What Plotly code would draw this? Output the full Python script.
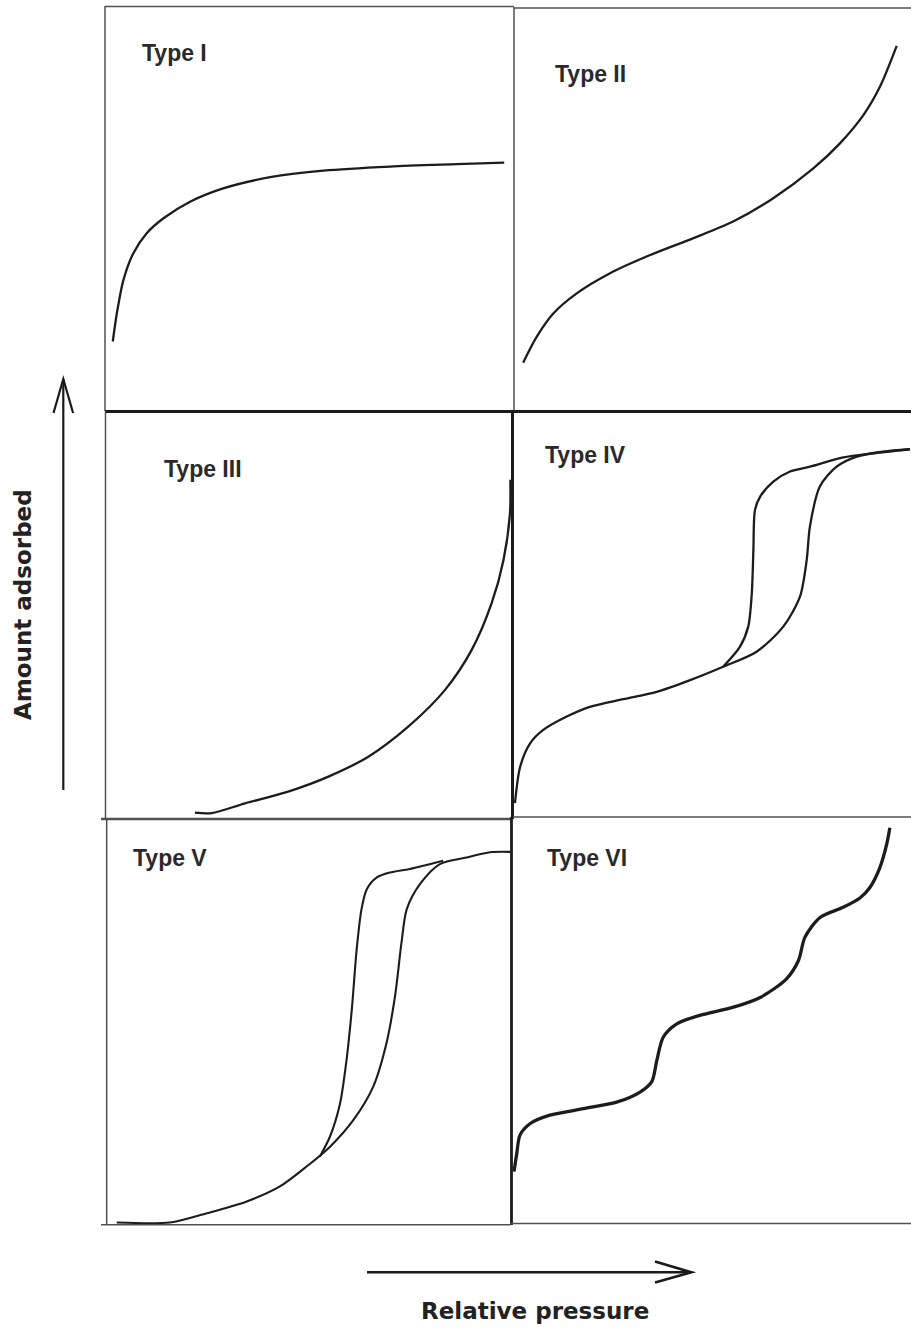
import plotly.graph_objects as go

# ---------------- data (relative pressure 0-1, amount adsorbed 0-100) ----------------
type1_p = [0.019, 0.029, 0.045, 0.069, 0.102, 0.143, 0.208, 0.289, 0.411, 0.534, 0.697, 0.860, 0.976]
type1_q = [17.2, 24.2, 32.4, 39.0, 44.0, 47.7, 51.8, 55.1, 58.0, 59.5, 60.5, 61.1, 61.5]

type2_p = [0.023, 0.057, 0.099, 0.158, 0.242, 0.343, 0.452, 0.552, 0.653, 0.754, 0.821, 0.880, 0.922, 0.964]
type2_q = [12.0, 18.4, 24.2, 29.2, 34.2, 38.7, 42.9, 47.0, 52.8, 60.2, 66.4, 73.4, 80.5, 90.6]

type3_p = [0.221, 0.262, 0.344, 0.450, 0.549, 0.647, 0.745, 0.835, 0.901, 0.950, 0.979, 0.995, 0.996]
type3_q = [1.3, 1.2, 3.6, 6.5, 10.2, 15.1, 22.5, 31.5, 41.4, 52.9, 63.5, 75.0, 83.3]

type4_ads_p = [0.005, 0.018, 0.043, 0.076, 0.135, 0.193, 0.277, 0.361, 0.445, 0.528, 0.612, 0.679,
               0.721, 0.738, 0.746, 0.771, 0.813, 0.864, 0.930, 0.997]
type4_ads_q = [3.4, 12.4, 18.2, 21.5, 24.8, 27.2, 29.1, 30.9, 33.8, 37.1, 40.8, 47.0,
               54.4, 63.5, 71.7, 81.6, 86.5, 89.0, 90.2, 90.8]
type4_des_p = [0.997, 0.905, 0.830, 0.746, 0.696, 0.654, 0.621, 0.608, 0.604, 0.600, 0.591, 0.570, 0.528]
type4_des_q = [90.8, 89.8, 88.8, 86.5, 85.3, 82.8, 79.1, 75.8, 65.9, 55.2, 47.0, 42.0, 37.1]

type5_ads_p = [0.024, 0.156, 0.247, 0.346, 0.428, 0.494, 0.552, 0.610, 0.659, 0.692, 0.713, 0.729,
               0.742, 0.775, 0.824, 0.890, 0.948, 0.998]
type5_ads_q = [0.6, 0.6, 2.9, 5.8, 9.5, 14.4, 19.3, 25.9, 34.1, 44.9, 56.4, 69.6,
               77.8, 84.0, 88.9, 90.5, 91.8, 91.9]
type5_des_p = [0.832, 0.750, 0.700, 0.668, 0.643, 0.630, 0.618, 0.606, 0.593, 0.577, 0.552, 0.527]
type5_des_q = [89.7, 87.7, 86.8, 85.6, 82.7, 77.8, 67.9, 53.1, 40.7, 30.0, 21.8, 16.9]

type6_p = [0.005, 0.012, 0.020, 0.045, 0.095, 0.179, 0.262, 0.321, 0.350, 0.363, 0.379, 0.413,
           0.471, 0.555, 0.622, 0.688, 0.718, 0.734, 0.772, 0.830, 0.872, 0.897, 0.922, 0.939, 0.947]
type6_q = [12.9, 17.4, 21.9, 24.7, 26.8, 28.4, 30.0, 32.5, 35.0, 40.3, 46.0, 49.3,
           51.4, 53.4, 55.8, 60.4, 64.9, 70.6, 75.5, 78.0, 80.3, 82.9, 87.8, 93.5, 97.6]

panel_labels = ["Type I", "Type II", "Type III", "Type IV", "Type V", "Type VI"]
x_label = "Relative pressure"
y_label = "Amount adsorbed"

# ---------------- layout helpers ----------------
W, H = 911, 1327


def fx(x):
    return x / W


def fy(y):
    return 1 - y / H


# panel boxes in pixels: left, right, top, bottom
boxes = [
    (105, 514, 7, 411),
    (514, 911, 8, 411),
    (105, 512, 412, 818),
    (513, 911, 412, 817),
    (107, 511, 819, 1225),
    (512, 911, 818, 1224),
]
label_pos = [(140, 53), (553, 74), (162, 469), (543, 455), (131, 858), (545, 858)]

series = [
    [(type1_p, type1_q)],
    [(type2_p, type2_q)],
    [(type3_p, type3_q)],
    [(type4_ads_p, type4_ads_q), (type4_des_p, type4_des_q)],
    [(type5_ads_p, type5_ads_q), (type5_des_p, type5_des_q)],
    [(type6_p, type6_q)],
]
widths = [2.3, 2.3, 2.3, 2.3, 2.1, 3.3]

fig = go.Figure()
layout = dict(
    width=W, height=H, margin=dict(l=0, r=0, t=0, b=0),
    paper_bgcolor="white", plot_bgcolor="rgba(0,0,0,0)", showlegend=False,
)
for i, (l, r, t, b) in enumerate(boxes):
    k = "" if i == 0 else str(i + 1)
    layout["xaxis" + k] = dict(domain=[fx(l), fx(r)], range=[0, 1], visible=False,
                               anchor="y" + k, fixedrange=True)
    layout["yaxis" + k] = dict(domain=[fy(b), fy(t)], range=[0, 100], visible=False,
                               anchor="x" + k, fixedrange=True)
    for (xs, ys) in series[i]:
        fig.add_trace(go.Scatter(
            x=xs, y=ys, mode="lines", xaxis="x" + k, yaxis="y" + k,
            line=dict(color="#1c1c1c", width=widths[i], shape="spline", smoothing=0.8),
            hoverinfo="skip"))
fig.update_layout(**layout)

shapes = []


def seg(x0, y0, x1, y1, w=1.5, c="#505050"):
    shapes.append(dict(type="line", xref="paper", yref="paper",
                       x0=fx(x0), y0=fy(y0), x1=fx(x1), y1=fy(y1),
                       line=dict(color=c, width=w)))


# frames
seg(105, 6.5, 514, 6.5)
seg(105, 6, 105, 411)
seg(514, 7, 514, 411)
seg(514, 8, 911, 8)
seg(105, 411.5, 911, 411.5, 3, "#1a1a1a")
seg(105.5, 411, 105.5, 818.5)
seg(512.5, 411, 512.5, 819, 3, "#1a1a1a")
seg(101, 818.5, 512, 818.5)
seg(513, 817, 911, 817)
seg(101, 819.5, 511, 819.5)
seg(106.7, 819, 106.7, 1225)
seg(511.5, 817, 511.5, 1225, 2.8, "#1a1a1a")
seg(101, 1224.8, 511, 1224.8)
seg(511, 1223.5, 911, 1223.5)

# arrows (open heads)
arrow_col = "#1a1a1a"
shapes.append(dict(type="path", xref="paper", yref="paper",
                   path=f"M {fx(63.3)} {fy(790)} L {fx(63.3)} {fy(379)}",
                   line=dict(color=arrow_col, width=2.2)))
shapes.append(dict(type="path", xref="paper", yref="paper",
                   path=f"M {fx(53.5)} {fy(413)} L {fx(63.3)} {fy(379)} L {fx(73.1)} {fy(413)}",
                   line=dict(color=arrow_col, width=2.2)))
shapes.append(dict(type="path", xref="paper", yref="paper",
                   path=f"M {fx(367)} {fy(1272.3)} L {fx(691)} {fy(1272.3)}",
                   line=dict(color=arrow_col, width=2.4)))
shapes.append(dict(type="path", xref="paper", yref="paper",
                   path=f"M {fx(655)} {fy(1261.5)} L {fx(691.5)} {fy(1272.3)} L {fx(655)} {fy(1282.5)}",
                   line=dict(color=arrow_col, width=2.6)))

annotations = []
for (lx, ly), txt in zip(label_pos, panel_labels):
    annotations.append(dict(
        text=f"<b>{txt}</b>", x=fx(lx), y=fy(ly), xref="paper", yref="paper",
        xanchor="left", yanchor="middle", showarrow=False,
        font=dict(family="Liberation Sans, Arial, sans-serif", size=23, color="#2a2a2a")))

annotations.append(dict(
    text=f"<b>{x_label}</b>", x=fx(534.5), y=fy(1311), xref="paper", yref="paper",
    xanchor="center", yanchor="middle", showarrow=False,
    font=dict(family="DejaVu Sans, sans-serif", size=23, color="#222222")))
annotations.append(dict(
    text=f"<b>{y_label}</b>", x=fx(23), y=fy(605), xref="paper", yref="paper",
    xanchor="center", yanchor="middle", showarrow=False, textangle=-90,
    font=dict(family="DejaVu Sans, sans-serif", size=23, color="#222222")))

fig.update_layout(shapes=shapes, annotations=annotations)
fig.write_html(
    "out.html",
    config={"displayModeBar": False, "staticPlot": True},
    post_script="document.body.style.margin='0';document.body.style.padding='0';"
                "document.documentElement.style.overflow='hidden';",
)
